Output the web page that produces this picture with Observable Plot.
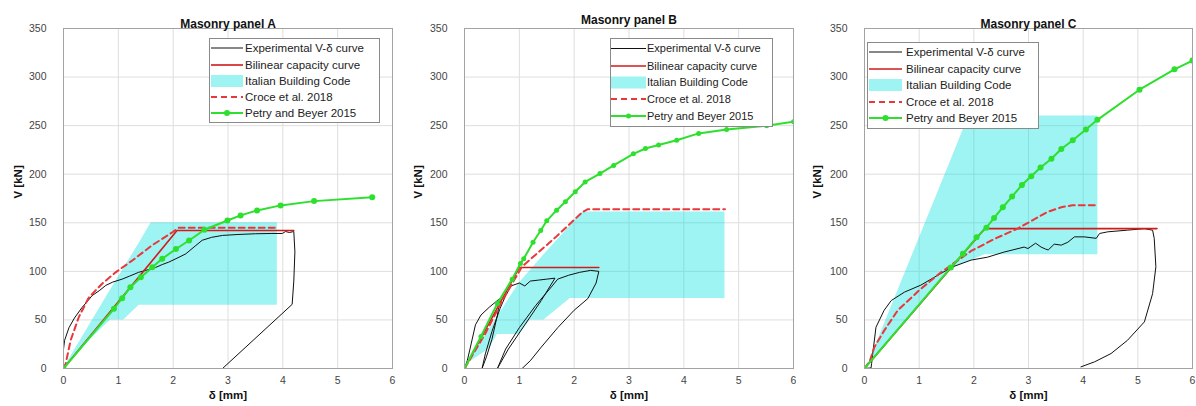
<!DOCTYPE html>
<html><head><meta charset="utf-8">
<script src="https://cdn.jsdelivr.net/npm/d3@7"></script>
<script src="https://cdn.jsdelivr.net/npm/@observablehq/plot@0.6"></script>
<style>
body{margin:0;background:#fff;font-family:"Liberation Sans",Arial,sans-serif;}
#wrap{position:relative;width:1196px;height:406px;overflow:hidden;background:#fff;}
.panel{position:absolute;top:0;}
.legend{position:absolute;}
</style></head><body><div id="wrap"></div>
<script>
// ---------- shared ----------
const xTicks = [0, 1, 2, 3, 4, 5, 6];
const yTicks = [0, 50, 100, 150, 200, 250, 300, 350];
const xLabel = "δ [mm]";
const yLabel = "V [kN]";
const titles = ["Masonry panel A", "Masonry panel B", "Masonry panel C"];
const legendLabels = ["Experimental V-δ curve", "Bilinear capacity curve", "Italian Building Code", "Croce et al. 2018", "Petry and Beyer 2015"];

// ---------- Panel A ----------
const aExpX = [0, 0, 0.02, 0.1, 0.2, 0.34, 0.45, 0.52, 0.65, 0.77, 0.9, 1.07, 1.2, 1.37, 1.5, 1.68, 1.8, 1.92, 2.05, 2.23, 2.4, 2.53, 2.7, 2.9, 3.2, 3.5, 3.8, 3.99, 4.05, 4.12, 4.2, 4.22, 4.2, 4.17, 2.9];
const aExpY = [0, 20, 29, 42, 52, 63, 70, 75, 80, 85.5, 89, 92, 95, 99, 101, 104, 107, 109.5, 113, 118, 126, 132, 135, 137, 138, 138.7, 139, 139, 141, 140, 141, 120, 90, 66, 0];
const aBilX = [0, 2.07, 4.2];
const aBilY = [0, 142, 142];
const aCroceX = [0, 0.04, 0.13, 0.28, 0.46, 0.7, 0.95, 1.25, 1.62, 1.98, 2.1, 3.9];
const aCroceY = [0, 5, 29, 53, 73, 87, 99, 111, 127, 140, 145, 145];
const aPetryX = [0, 0.92, 1.07, 1.22, 1.41, 1.62, 1.8, 2.05, 2.29, 2.57, 2.99, 3.23, 3.53, 3.96, 4.57, 5.63];
const aPetryY = [0, 61.5, 72.4, 83.7, 94, 104.3, 113, 123, 131.8, 142.8, 152.4, 157.6, 162.7, 167.9, 172.3, 176.4];
const aBandX = [0, 0.31, 0.86, 1.1, 1.38, 1.6, 3.9];
const aBandLo = [0, 20, 50, 50, 65, 65, 65];
const aBandHi = [0, 29, 81, 103, 129, 150, 150];

// ---------- Panel B ----------
const bExpX = [0, 0.05, 0.1, 0.2, 0.3, 0.45, 0.6, 0.65, 0.6, 0.5, 0.4, 0.32, 0.38, 0.5, 0.65, 0.75, 0.85, 1.0, 1.1, 1.2, 1.35, 1.5, 1.65, 1.4, 1.1, 0.8, 0.6, 0.75, 1.0, 1.3, 1.6, 1.7, 1.9, 2.1, 2.3, 2.45, 2.4, 2.25, 2.0, 1.7, 1.4, 1.2, 1.05];
const bExpY = [0, 8, 20, 45, 55, 63, 70, 72, 55, 30, 12, 0, 15, 38, 62, 75, 85, 88, 85, 90, 91, 92, 93, 70, 45, 20, 0, 20, 42, 65, 85, 92, 96, 99, 101, 100, 88, 72, 60, 42, 22, 8, 0];
const bBilX = [0, 1.0, 2.45];
const bBilY = [0, 104, 104];
const bCroceX = [0, 0.38, 0.69, 1.05, 1.66, 2.15, 2.25, 4.75];
const bCroceY = [0, 36, 70, 105, 135, 161, 164, 164];
const bPetryX = [0, 0.3, 0.6, 0.87, 1.02, 1.08, 1.25, 1.39, 1.5, 1.68, 1.84, 2.02, 2.2, 2.47, 2.72, 3.08, 3.3, 3.54, 3.87, 4.27, 4.78, 5.51, 6];
const bPetryY = [0, 33, 67, 92, 108, 113, 130, 142, 152, 163, 171.6, 182, 192, 200.7, 209, 221, 226.5, 230, 235, 242, 246, 250, 254];
const bBandX = [0.05, 0.45, 0.6, 1.0, 1.2, 1.45, 1.93, 2.15, 4.75];
const bBandLo = [5, 20, 35, 35, 50, 50, 72, 72, 72];
const bBandHi = [5, 40, 53, 88, 101, 117, 147, 161, 161];

// ---------- Panel C ----------
const cExpX = [0, 0.12, 0.13, 0.15, 0.21, 0.36, 0.49, 0.73, 1.03, 1.34, 1.61, 1.95, 2.25, 2.55, 2.92, 2.99, 3.13, 3.23, 3.31, 3.36, 3.47, 3.6, 3.72, 3.84, 4.02, 4.24, 4.3, 4.45, 4.81, 5.12, 5.27, 5.3, 5.33, 5.27, 5.12, 4.81, 4.51, 4.21, 3.96];
const cExpY = [0, 0.6, 5, 15, 42.5, 60, 70, 78.6, 85.8, 96, 104.6, 111.6, 114.6, 119.8, 125, 123.5, 129, 125, 123, 122, 128, 127, 130, 135.5, 135.5, 134, 139, 140.7, 142.4, 144, 142.4, 134, 104.7, 77, 48, 29, 15.4, 6.9, 1.7];
const cBilX = [0, 2.2, 5.35];
const cBilY = [0, 144, 144];
const cCroceX = [0, 0.1, 0.18, 0.36, 0.61, 1.03, 1.4, 1.95, 2.4, 2.8, 3.34, 3.6, 3.8, 4.24];
const cCroceY = [0, 8, 22, 39, 60, 82, 99, 121, 134, 144, 161, 166, 168, 168];
const cPetryX = [0, 1.58, 1.8, 2.05, 2.23, 2.37, 2.53, 2.7, 2.88, 3.05, 3.22, 3.42, 3.6, 3.81, 4.05, 4.26, 5.03, 5.67, 6.0];
const cPetryY = [0, 104, 118, 135, 145, 155, 166, 177, 189, 198, 207, 216, 226, 235, 246, 256, 287, 308, 317];
const cBandX = [0.04, 1.6, 1.9, 2.2, 4.27];
const cBandLo = [1, 103, 110, 117, 117];
const cBandHi = [1, 217, 259, 260, 260];

// ---------- styles ----------
const FONT = '"Liberation Sans", Arial, sans-serif';
const C_EXP = "#111111", C_BIL = "#d11a1a", C_CROCE = "#e8383b", C_PETRY = "#2de02d", C_BAND = "#00e0e0";

const zip = (xs, ys) => xs.map((x, i) => ({x, y: ys[i]}));
const zipBand = (xs, lo, hi) => xs.map((x, i) => ({x, lo: lo[i], hi: hi[i]}));

const panels = [
  {left: 0, ml: 63, mr: 8, titleDy: -9, yLabDx: -45, r: 3,
   exp: zip(aExpX, aExpY), bil: zip(aBilX, aBilY), croce: zip(aCroceX, aCroceY), petry: zip(aPetryX, aPetryY), band: zipBand(aBandX, aBandLo, aBandHi),
   leg: {x: 209, y: 38, w: 170, h: 84, rows: [10, 27, 43, 59, 75], s0: 2, s1: 34, tx: 36, fs: 11.5}},
  {left: 400, ml: 64, mr: 7, titleDy: -13, yLabDx: -46, r: 2.5,
   exp: zip(bExpX, bExpY), bil: zip(bBilX, bBilY), croce: zip(bCroceX, bCroceY), petry: zip(bPetryX, bPetryY), band: zipBand(bBandX, bBandLo, bBandHi),
   leg: {x: 610, y: 38, w: 162, h: 88, rows: [10.5, 28, 44.5, 61, 78], s0: 1, s1: 36, tx: 37, fs: 11}},
  {left: 796, ml: 68, mr: 4, titleDy: -9, yLabDx: -47, r: 3,
   exp: zip(cExpX, cExpY), bil: zip(cBilX, cBilY), croce: zip(cCroceX, cCroceY), petry: zip(cPetryX, cPetryY), band: zipBand(cBandX, cBandLo, cBandHi),
   leg: {x: 867, y: 42, w: 171, h: 86, rows: [10, 27, 43, 60, 76], s0: 2, s1: 35, tx: 39, fs: 11.5}}
];

const wrap = document.getElementById("wrap");

panels.forEach((p, i) => {
  const chart = Plot.plot({
    width: 400, height: 406,
    marginLeft: p.ml, marginRight: p.mr, marginTop: 28, marginBottom: 38,
    style: {fontFamily: FONT, fontSize: "10.5px", color: "#444", background: "white", overflow: "visible"},
    x: {domain: [0, 6], ticks: xTicks, tickFormat: d => String(d), label: null, tickSize: 0, tickPadding: 8},
    y: {domain: [0, 350], ticks: yTicks, tickFormat: d => String(d), label: null, tickSize: 0, tickPadding: 17},
    marks: [
      Plot.gridX(xTicks, {stroke: "#dedede", strokeOpacity: 1}),
      Plot.gridY(yTicks, {stroke: "#dedede", strokeOpacity: 1}),
      Plot.areaY(p.band, {x: "x", y1: "lo", y2: "hi", fill: C_BAND, fillOpacity: 0.38, curve: "linear"}),
      Plot.line(p.exp, {x: "x", y: "y", stroke: C_EXP, strokeWidth: 1, clip: true}),
      Plot.line(p.bil, {x: "x", y: "y", stroke: C_BIL, strokeWidth: 1.6, clip: true}),
      Plot.line(p.croce, {x: "x", y: "y", stroke: C_CROCE, strokeWidth: 2, strokeDasharray: "6,4", clip: true}),
      Plot.line(p.petry, {x: "x", y: "y", stroke: C_PETRY, strokeWidth: 2, clip: true}),
      Plot.dot(p.petry, {x: "x", y: "y", r: p.r, fill: C_PETRY, stroke: "none", clip: true}),
      Plot.frame({stroke: "#a3a3a3"}),
      Plot.text([titles[i]], {frameAnchor: "top", dy: p.titleDy, fontWeight: "bold", fontSize: 12, fill: "#111"}),
      Plot.text([xLabel], {frameAnchor: "bottom", dy: 30, fontWeight: "bold", fontSize: 11.5, fill: "#111"}),
      Plot.text([yLabel], {frameAnchor: "left", dx: p.yLabDx, rotate: -90, fontWeight: "bold", fontSize: 11.5, fill: "#111"})
    ]
  });
  chart.classList.add("panel");
  chart.style.left = p.left + "px";
  chart.style.position = "absolute";
  wrap.appendChild(chart);

  // legend
  const L = p.leg;
  const svg = d3.select(wrap).append("svg").attr("class", "legend")
    .style("left", L.x + "px").style("top", L.y + "px")
    .attr("width", L.w + 1).attr("height", L.h + 1);
  svg.append("rect").attr("x", 0.5).attr("y", 0.5).attr("width", L.w).attr("height", L.h)
    .attr("fill", "#fff").attr("stroke", "#8a8a8a");
  const r = L.rows;
  svg.append("line").attr("x1", L.s0).attr("x2", L.s1).attr("y1", r[0]).attr("y2", r[0]).attr("stroke", C_EXP).attr("stroke-width", 1);
  svg.append("line").attr("x1", L.s0).attr("x2", L.s1).attr("y1", r[1]).attr("y2", r[1]).attr("stroke", C_BIL).attr("stroke-width", 1.6);
  svg.append("rect").attr("x", L.s0).attr("y", r[2] - 6).attr("width", L.s1 - L.s0).attr("height", 12).attr("fill", C_BAND).attr("fill-opacity", 0.38);
  svg.append("line").attr("x1", L.s0).attr("x2", L.s1).attr("y1", r[3]).attr("y2", r[3]).attr("stroke", C_CROCE).attr("stroke-width", 2).attr("stroke-dasharray", "6,4");
  svg.append("line").attr("x1", L.s0).attr("x2", L.s1).attr("y1", r[4]).attr("y2", r[4]).attr("stroke", C_PETRY).attr("stroke-width", 2);
  svg.append("circle").attr("cx", (L.s0 + L.s1) / 2).attr("cy", r[4]).attr("r", p.r).attr("fill", C_PETRY);
  legendLabels.forEach((t, k) => {
    svg.append("text").attr("x", L.tx).attr("y", r[k]).attr("dy", "0.35em")
      .attr("font-family", FONT).attr("font-size", L.fs).attr("fill", "#222").text(t);
  });
});
</script></body></html>
